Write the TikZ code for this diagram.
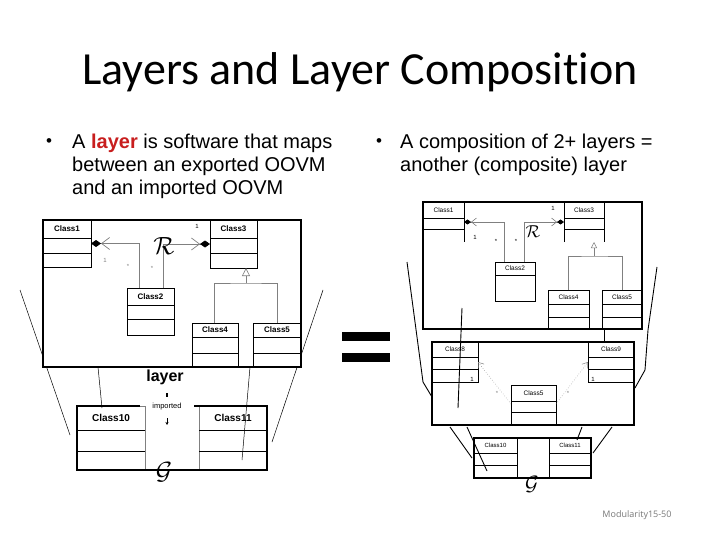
\documentclass[tikz,border=0pt]{standalone}
\usepackage{fontspec}
\setmainfont{Liberation Sans}
\newfontfamily\titlefont[Ligatures={NoCommon}]{Carlito}
\newfontfamily\footfont{Open Sans}
\usetikzlibrary{arrows.meta,calc}
\definecolor{layerred}{RGB}{200,30,30}
\definecolor{umlgray}{RGB}{128,128,128}
\definecolor{footgray}{RGB}{120,120,120}

\tikzset{
  frame/.style={draw,fill=white,line width=1.3pt,inner sep=0pt,outer sep=0pt,anchor=north west},
  cls/.style={draw,fill=white,line width=0.7pt,inner sep=0pt,outer sep=0pt,anchor=north west},
  clssep/.style={line width=0.7pt},
  clslabel/.style={font=\fontsize{8}{9}\selectfont\bfseries},
  thinline/.style={line width=0.5pt},
  assoc/.style={draw=umlgray,line width=0.8pt,
    -{Straight Barb[length=8pt,width=12pt,line width=0.7pt] Diamond[length=10pt,width=7pt,color=black,fill=black]}},
  assocs/.style={draw=umlgray,line width=0.7pt,
    -{Straight Barb[length=5pt,width=8pt,line width=0.6pt] Diamond[length=7pt,width=5pt,color=black,fill=black]}},
  genline/.style={draw=umlgray,line width=0.8pt},
  gentip/.style={-{Triangle[open,length=8pt,width=8pt,line width=0.6pt]}},
  dep/.style={draw=umlgray,line width=0.5pt,dotted,-{Straight Barb[length=5pt,width=7pt,line width=0.5pt]}},
  small/.style={font=\fontsize{6}{7}\selectfont},
  bodytext/.style={anchor=base west,inner sep=0pt,font=\fontsize{20}{23}\selectfont},
  bullet/.style={inner sep=0pt,font=\fontsize{17}{19}\selectfont},
}

\newcommand\umlbox[8][]{%
  \node[cls,#1,minimum width=#4pt,minimum height=#5pt] (#2) at (#3) {};
  \draw[clssep] ($(#2.north west)+(0,#6)$) -- ($(#2.north east)+(0,#6)$);
  \ifnum#7>0 \draw[clssep] ($(#2.north west)+(0,#7)$) -- ($(#2.north east)+(0,#7)$);\fi
  \node[clslabel] at ($(#2.north)+(0,#6/2)$) {#8};
}

\begin{document}
\begin{tikzpicture}[x=1pt,y=-1pt]
\useasboundingbox (0,0) rectangle (720,540);
\fill[white] (0,0) rectangle (720,540);

% ---------- title and text ----------
\node[font=\titlefont\fontsize{46}{52}\selectfont,anchor=base] (title) at (360,85) {Layers and Layer Composition};

\node[bullet] (bl) at (49,143) {•};
\node[bodytext] (t1) at (72,149) {A \textcolor{layerred}{\textbf{layer}} is software that maps};
\node[bodytext] (t2) at (72,172) {between an exported OOVM};
\node[bodytext] (t3) at (72,195) {and an imported OOVM};

\node[bullet] (br) at (379,143) {•};
\node[bodytext] (r1) at (400,149) {A composition of 2+ layers =};
\node[bodytext] (r2) at (400,172) {another (composite) layer};

% ---------- left diagram ----------
\draw[thinline] (20,290) -- (70,435);
\draw[thinline] (323,290) -- (272,442);

\node[frame,minimum width=258pt,minimum height=147pt] (L1) at (43,220) {};
\begin{scope}[clslabel/.style={font=\fontsize{8}{9}\selectfont\bfseries}]
\umlbox{c1}{43,220}{48}{47}{18}{33}{Class1}
\umlbox{c3}{210,220}{47}{48}{18}{33}{Class3}
\umlbox{c2}{127,288}{47}{47}{17}{31}{Class2}
\umlbox{c4}{192,323}{46}{44}{14}{30}{Class4}
\umlbox{c5}{253,323}{48}{44}{14}{30}{Class5}
\end{scope}
\draw[line width=1.3pt] (L1.north west) rectangle (L1.south east);

\draw[assoc] ($(c2.north west)+(12,0)$) |- (c1.east);
\draw[assoc] ($(c2.north west)+(36,0)$) |- (c3.west);
\coordinate (gj) at ($(c3.south west)+(36,15)$);
\draw[genline] ($(c4.north west)+(22,0)$) |- (gj) -| ($(c5.north west)+(24,0)$);
\draw[genline,gentip] (gj) -- (gj |- c3.south);

\node[small] (n1a) at (197,226) {1};
\node[small,text=umlgray] (n1b) at (105,260) {1};
\node[small,text=umlgray] (s1a) at (128,266) {*};
\node[small,text=umlgray] (s1b) at (152,268) {*};
\node[font=\Huge] (R1) at (164,246) {$\mathcal{R}$};

\node[font=\fontsize{16}{18}\selectfont\bfseries] (lay) at (165,377) {layer};

% lower box
\begin{scope}[clslabel/.style={font=\fontsize{10}{12}\selectfont\bfseries}]
\umlbox[draw=umlgray]{c10}{77,406}{68}{64}{24}{45}{Class10}
\umlbox[draw=umlgray]{c11}{199,406}{68}{64}{24}{45}{Class11}
\end{scope}
\draw[line width=1.3pt] (140,406) -- (77,406) -- (77,470) -- (267,470) -- (267,406) -- (194,406);
\node[font=\fontsize{7.5}{9}\selectfont] (imp) at (167,407) {imported};
\draw[line width=1.3pt] (167,393) -- (167,397);
\draw[line width=0.9pt,-{Stealth[length=3pt,width=3pt]}] (167,418) -- (167,425);
\node[font=\Huge] (G1) at (164,472) {$\mathcal{G}$};

\draw[thinline] (98,367) -- (102,408);
\draw[thinline] (250,367) -- (242,460);

% ---------- equals sign ----------
\fill (342,332) rectangle (390,341);
\fill (342,353) rectangle (390,362);

% ---------- right diagram ----------
\draw[line width=0.9pt] (407,262) -- (423,382) -- (432,397);
\draw[line width=0.9pt] (657,267) -- (648,330) -- (645,370) -- (635,388);

\node[frame,minimum width=219pt,minimum height=127pt] (R1f) at (423,202) {};
\begin{scope}[clslabel/.style={font=\fontsize{6.5}{8}\selectfont}]
\umlbox[draw=none]{d1}{423,202}{41}{40}{16}{27}{Class1}
\draw[clssep] (d1.north east) -- (d1.south east);
\umlbox[draw=none]{d3}{564,202}{40}{40}{16}{27}{Class3}
\draw[clssep] (d3.south west) |- (d3.north east) -- (d3.south east);
\umlbox{d2}{495,262}{40}{39}{13}{0}{Class2}
\umlbox{d4}{548,290}{41}{39}{14}{27}{Class4}
\umlbox{d5}{602,290}{40}{39}{14}{27}{Class5}
\end{scope}
\draw[line width=1.3pt] (R1f.north west) rectangle (R1f.south east);

\draw[assocs] ($(d2.north west)+(9,0)$) |- (d1.east);
\draw[assocs] ($(d2.north west)+(29,0)$) |- (d3.west);
\coordinate (gk) at ($(d3.south west)+(30,14)$);
\draw[genline,line width=0.7pt] ($(d4.north west)+(20,0)$) |- (gk) -| ($(d5.north west)+(20,0)$);
\draw[genline,line width=0.7pt,-{Triangle[open,length=6pt,width=6pt,line width=0.5pt]}] (gk) -- (gk |- d3.south);

\node[small] (m1a) at (553,208) {1};
\node[small] (m1b) at (475,237) {1};
\node[small] (m2a) at (496,241) {*};
\node[small] (m2b) at (516,241) {*};
\node[font=\LARGE] (R2) at (533,232) {$\mathcal{R}$};

% middle box
\node[frame,minimum width=202pt,minimum height=83pt] (R2f) at (432,342) {};
\begin{scope}[clslabel/.style={font=\fontsize{6.5}{8}\selectfont}]
\umlbox{d8}{432,342}{46}{40}{15}{27}{Class8}
\umlbox{d9}{588,342}{46}{40}{15}{27}{Class9}
\umlbox{d6}{511,385}{45}{40}{16}{27}{Class5}
\end{scope}
\draw[line width=1.3pt] (R2f.north west) rectangle (R2f.south east);
\draw[dep] ($(d6.north west)+(0,19)$) -- ($(d8.north east)+(0,20)$);
\draw[dep] ($(d6.north east)+(0,19)$) -- ($(d9.north west)+(0,20)$);
\node[small] (k1a) at (472,379) {1};
\node[small] (k1b) at (593,379) {1};
\node[small,text=umlgray] (k2a) at (497,393) {*};
\node[small,text=umlgray] (k2b) at (568,393) {*};

% lower box
\node[frame,minimum width=117pt,minimum height=40pt] (R3f) at (474,438) {};
\begin{scope}[clslabel/.style={font=\fontsize{6}{7}\selectfont}]
\umlbox{d10}{474,438}{43}{40}{15}{27}{Class10}
\umlbox{d11}{549,438}{42}{40}{15}{27}{Class11}
\end{scope}
\draw[line width=1.3pt] (R3f.north west) rectangle (R3f.south east);
\node[font=\huge] (G2) at (532,484) {$\mathcal{G}$};

% overlay lines
\draw[line width=0.9pt] (462,308) -- (458,408);
\draw[line width=0.9pt] (604,329) -- (604,342);
\draw[line width=0.9pt] (450,427) -- (472,458);
\draw[line width=0.9pt] (467,427) -- (487,471);
\draw[line width=0.9pt] (582,427) -- (577,440);
\draw[line width=0.9pt] (612,427) -- (593,453);

% footer
\node[font=\footfont\fontsize{9}{11}\selectfont,text=footgray] (foot) at (637,515) {Modularity15-50};
\end{tikzpicture}
\end{document}
